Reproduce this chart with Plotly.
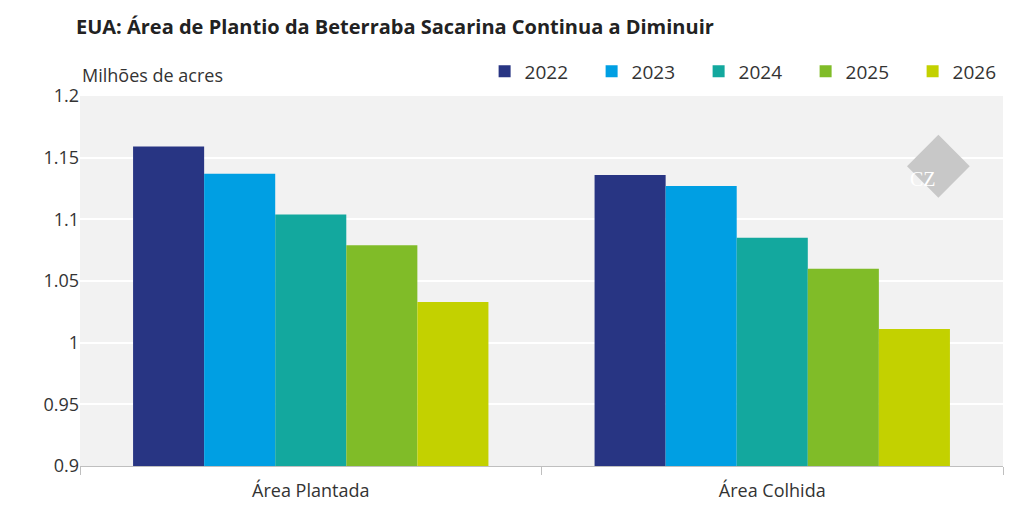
import plotly.graph_objects as go

categorias = ["Área Plantada", "Área Colhida"]
anos = ["2022", "2023", "2024", "2025", "2026"]
valores = {
    "2022": [1.159, 1.136],
    "2023": [1.137, 1.127],
    "2024": [1.104, 1.085],
    "2025": [1.079, 1.060],
    "2026": [1.033, 1.011],
}
cores = ["#283583", "#009fe3", "#13a89e", "#80bc28", "#c3d100"]

fig = go.Figure()
for ano, cor in zip(anos, cores):
    fig.add_trace(go.Bar(x=categorias, y=valores[ano], name=ano, marker_color=cor,
                         marker_line_width=0))

fig.update_layout(
    width=1030, height=511,
    font=dict(family="Open Sans", size=18, color="#333333"),
    title=dict(text="<b>EUA: Área de Plantio da Beterraba Sacarina Continua a Diminuir</b>",
               x=0.066, xanchor="left", y=0.976, font=dict(size=20, color="#222222")),
    plot_bgcolor="#f2f2f2", paper_bgcolor="white",
    margin=dict(l=72, r=35, t=88, b=53),
    barmode="group", bargap=0.23, bargroupgap=0,
    legend=dict(orientation="h", x=1.018, xanchor="right", y=1.015, yanchor="bottom",
                font=dict(size=19), itemwidth=30, entrywidth=62, entrywidthmode="pixels",
                traceorder="normal"),
    yaxis=dict(range=[0.9, 1.2], dtick=0.05, gridcolor="white", gridwidth=2,
               showline=False, zeroline=False, tickformat="~g",
               tickfont=dict(size=18)),
    xaxis=dict(showline=True, linecolor="#bfbfbf", ticks="outside", tickson="boundaries",
               tickcolor="#bfbfbf", ticklen=8, tickfont=dict(size=18), ticklabelstandoff=8),
    annotations=[dict(text="Milhões de acres", xref="paper", yref="paper", x=0.0, y=1.02,
                      xanchor="left", yanchor="bottom", showarrow=False,
                      font=dict(size=18, color="#333333")),
                 dict(text="CZ", xref="paper", yref="paper", x=0.93, y=0.81, showarrow=False,
                      font=dict(size=20, color="white", family="Liberation Serif"))],
    shapes=[dict(type="path", xref="paper", yref="paper",
                 path="M 0.93 0.895 L 0.964 0.81 L 0.93 0.725 L 0.896 0.81 Z",
                 fillcolor="#c8c8c8", line_width=0, layer="above")],
)

fig.write_html("out.html")
